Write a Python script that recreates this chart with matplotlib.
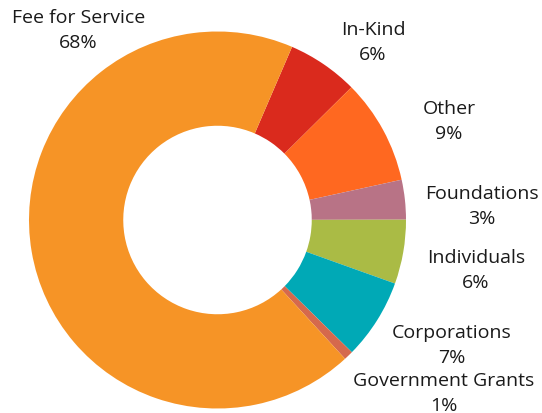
import matplotlib.pyplot as plt

# funding sources, in clockwise order starting at the top right
sources = ["In-Kind", "Other", "Foundations", "Individuals",
           "Corporations", "Government Grants", "Fee for Service"]
shares = [6.1, 9.0, 3.4, 5.5, 6.9, 0.8, 68.3]
share_labels = ["6%", "9%", "3%", "6%", "7%", "1%", "68%"]
colors = ["#DA2A1D", "#FF6820", "#B87386", "#AABB45",
          "#00A9B6", "#D5694D", "#F69426"]

# label placement in pixels: centre x, baseline of first line
label_pos = [(373, 35), (449, 114), (482, 199), (476, 263),
             (452, 338), (444, 386), (78.5, 23)]

W, H = 542, 414
fig = plt.figure(figsize=(W / 100, H / 100), dpi=100)

cx, cy, R = 217.5, 221, 188.5
ax = fig.add_axes([(cx - R) / W, (H - cy - R) / H, 2 * R / W, 2 * R / H])
ax.pie(shares, colors=colors, startangle=66.7, counterclock=False,
       radius=1, wedgeprops=dict(width=0.5, linewidth=0))
ax.set_xlim(-1, 1)
ax.set_ylim(-1, 1)
ax.set_aspect("equal")
ax.axis("off")

for name, pct, (x, y) in zip(sources, share_labels, label_pos):
    fig.text(x / W, 1 - y / H, name, ha="center", va="baseline",
             fontsize=14, family="Open Sans", color="#1a1a1a")
    fig.text(x / W, 1 - (y + 25) / H, pct, ha="center", va="baseline",
             fontsize=14, family="Open Sans", color="#1a1a1a")

fig.savefig("out.png", dpi=100)
